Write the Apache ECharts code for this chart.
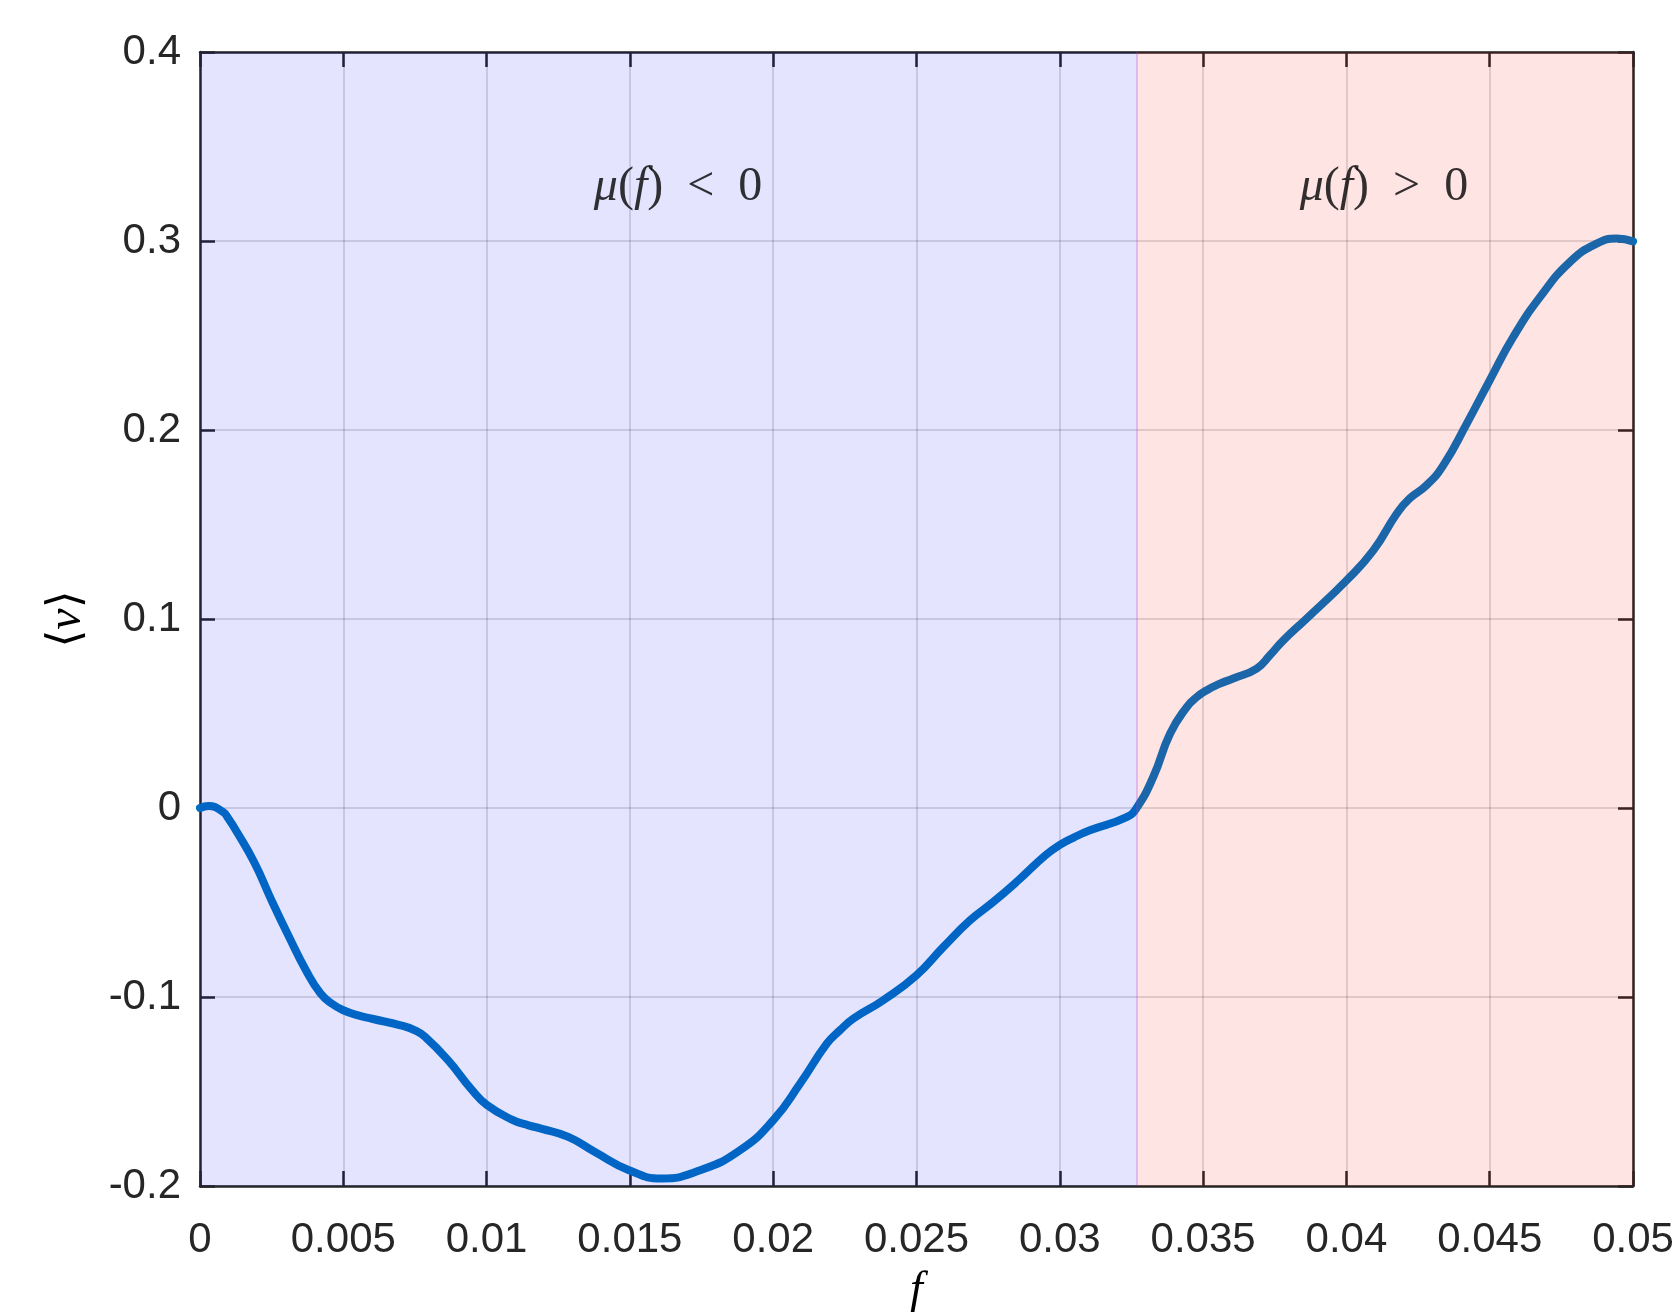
<!DOCTYPE html>
<html>
<head>
<meta charset="utf-8">
<script src="https://cdn.jsdelivr.net/npm/echarts@6/dist/echarts.min.js"></script>
<style>html,body{margin:0;padding:0;background:#fff}#c{width:1672px;height:1312px}</style>
</head>
<body>
<div id="c"></div>
<script>
// f values (x) and <v> values (y)
const fVals = [0, 0.0003, 0.0008, 0.00099, 0.0013, 0.0019, 0.0025, 0.0031, 0.0037, 0.0042, 0.0046, 0.0050,
  0.00552, 0.0060, 0.0070, 0.0075, 0.00785, 0.00866, 0.00948, 0.0100, 0.0109, 0.01146, 0.0119, 0.01285, 0.01378,
  0.01495, 0.0161, 0.01745, 0.01884, 0.0200, 0.02094, 0.02187, 0.02233, 0.0228, 0.02384, 0.0250,
  0.02594, 0.02687, 0.02768, 0.02855, 0.0295, 0.0300, 0.0305, 0.03105, 0.03233, 0.03268,
  0.03326, 0.03385, 0.03443, 0.03478, 0.03513, 0.03559, 0.03605, 0.03687, 0.03733, 0.0378, 0.03861, 0.04001, 0.04094,
  0.04176, 0.0422, 0.0428, 0.04338, 0.0442, 0.0450, 0.04582, 0.04676, 0.0478, 0.04873, 0.04943, 0.0500];
const vVals = [0, 0.001, -0.002, -0.0056, -0.013, -0.029, -0.049, -0.068, -0.086, -0.098, -0.1035, -0.107,
  -0.1097, -0.1115, -0.115, -0.1176, -0.121, -0.1335, -0.149, -0.157, -0.165, -0.1679, -0.1696, -0.174, -0.182,
  -0.1915, -0.196, -0.1917, -0.1811, -0.1652, -0.1458, -0.1247, -0.1176, -0.1114, -0.1017, -0.0885,
  -0.0735, -0.0594, -0.0497, -0.0383, -0.025, -0.0195, -0.0155, -0.0118, -0.0048, 0.0,
  0.0164, 0.0394, 0.0534, 0.0587, 0.0623, 0.0658, 0.0685, 0.0738, 0.0808, 0.0887, 0.1002, 0.1205, 0.1363,
  0.1558, 0.1637, 0.1708, 0.1813, 0.2034, 0.2263, 0.2492, 0.2704, 0.2889, 0.2986, 0.3013, 0.2998];
// region boundary and region labels
const boundaryF = 0.03268;
const regionLabels = [
  { f: 0.01668, v: 0.3284, sign: '<' },
  { f: 0.04131, v: 0.3284, sign: '>' }
];
// axis settings
const xMin = 0, xMax = 0.05, xStep = 0.005;
const yMin = -0.2, yMax = 0.4, yStep = 0.1;

const lineData = fVals.map((f, i) => [f, vVals[i]]);
const tickFont = 'Liberation Sans, Arial, Helvetica, sans-serif';
const axisColor = '#262626';

const chart = echarts.init(document.getElementById('c'), null, { renderer: 'canvas' });

function fmtX(v) {
  if (Math.abs(v) < 1e-12) return '0';
  return String(parseFloat(v.toFixed(4)));
}
function fmtY(v) {
  if (Math.abs(v) < 1e-12) return '0';
  return String(parseFloat(v.toFixed(2)));
}

const baseAxisLine = { show: true, onZero: false, lineStyle: { color: axisColor, width: 2.5 } };
const baseTick = { show: true, inside: true, length: 15, lineStyle: { color: axisColor, width: 2.5 } };

chart.setOption({
  animation: false,
  backgroundColor: '#ffffff',
  grid: { left: 200, right: 39, top: 52, bottom: 126, containLabel: false, outerBoundsMode: 'none' },
  xAxis: [
    {
      type: 'value', min: xMin, max: xMax, interval: xStep, position: 'bottom',
      axisLine: baseAxisLine, axisTick: baseTick,
      axisLabel: { show: true, margin: 33, color: axisColor, fontSize: 42, fontFamily: tickFont, formatter: fmtX },
      splitLine: { show: true, lineStyle: { color: 'rgba(38,38,38,0.15)', width: 2 } },
      name: '{i|f}', nameLocation: 'middle', nameGap: 82,
      nameTextStyle: { rich: { i: { fontFamily: 'Liberation Serif, serif', fontStyle: 'italic', fontSize: 46, color: '#000' } } }
    },
    {
      type: 'value', min: xMin, max: xMax, interval: xStep, position: 'top',
      axisLine: baseAxisLine, axisTick: baseTick, axisLabel: { show: false }, splitLine: { show: false }
    }
  ],
  yAxis: [
    {
      type: 'value', min: yMin, max: yMax, interval: yStep, position: 'left',
      axisLine: baseAxisLine, axisTick: baseTick,
      axisLabel: { show: true, margin: 19, color: axisColor, fontSize: 42, fontFamily: tickFont, formatter: fmtY },
      splitLine: { show: true, lineStyle: { color: 'rgba(38,38,38,0.15)', width: 2 } },
      name: '{b|⟨}{i|v}{b|⟩}', nameLocation: 'middle', nameGap: 109, nameRotate: 90,
      nameTextStyle: { rich: {
        b: { fontFamily: 'DejaVu Serif, serif', fontSize: 46, color: '#000' },
        i: { fontFamily: 'Liberation Serif, serif', fontStyle: 'italic', fontSize: 48, color: '#000' }
      } }
    },
    {
      type: 'value', min: yMin, max: yMax, interval: yStep, position: 'right',
      axisLine: baseAxisLine, axisTick: baseTick, axisLabel: { show: false }, splitLine: { show: false }
    }
  ],
  series: [
    {
      type: 'line', name: 'v', data: lineData, smooth: 0.5, showSymbol: false, symbol: 'none',
      lineStyle: { color: '#0072BD', width: 8, cap: 'round', join: 'round' }, z: 2, clip: true
    },
    {
      type: 'line', name: 'regions', data: [], z: 10, zlevel: 0, silent: true,
      markArea: {
        silent: true, z: 10,
        data: [
          [{ xAxis: xMin, yAxis: yMin, itemStyle: { color: 'rgba(0,0,255,0.105)' } }, { xAxis: boundaryF, yAxis: yMax }],
          [{ xAxis: boundaryF, yAxis: yMin, itemStyle: { color: 'rgba(255,0,0,0.105)' } }, { xAxis: xMax, yAxis: yMax }]
        ]
      },
      markLine: {
        silent: true, z: 11, symbol: 'none', label: { show: false },
        lineStyle: { color: 'rgba(170,60,220,0.35)', width: 1.5, type: 'solid' },
        data: [[{ coord: [boundaryF, yMin] }, { coord: [boundaryF, yMax] }]]
      }
    },
    {
      type: 'scatter', name: 'labels', z: 12, silent: true, symbolSize: 0,
      data: regionLabels.map(r => ({ value: [r.f, r.v], sign: r.sign })),
      label: {
        show: true, position: 'inside',
        formatter: p => '{i|μ}{r|(}{i|f}{r|)\u2002' + p.data.sign + '\u20020}',
        rich: {
          i: { fontFamily: 'Liberation Serif, serif', fontStyle: 'italic', fontSize: 48, color: '#000' },
          r: { fontFamily: 'Liberation Serif, serif', fontSize: 48, color: '#000' }
        }
      }
    }
  ]
});
</script>
</body>
</html>
